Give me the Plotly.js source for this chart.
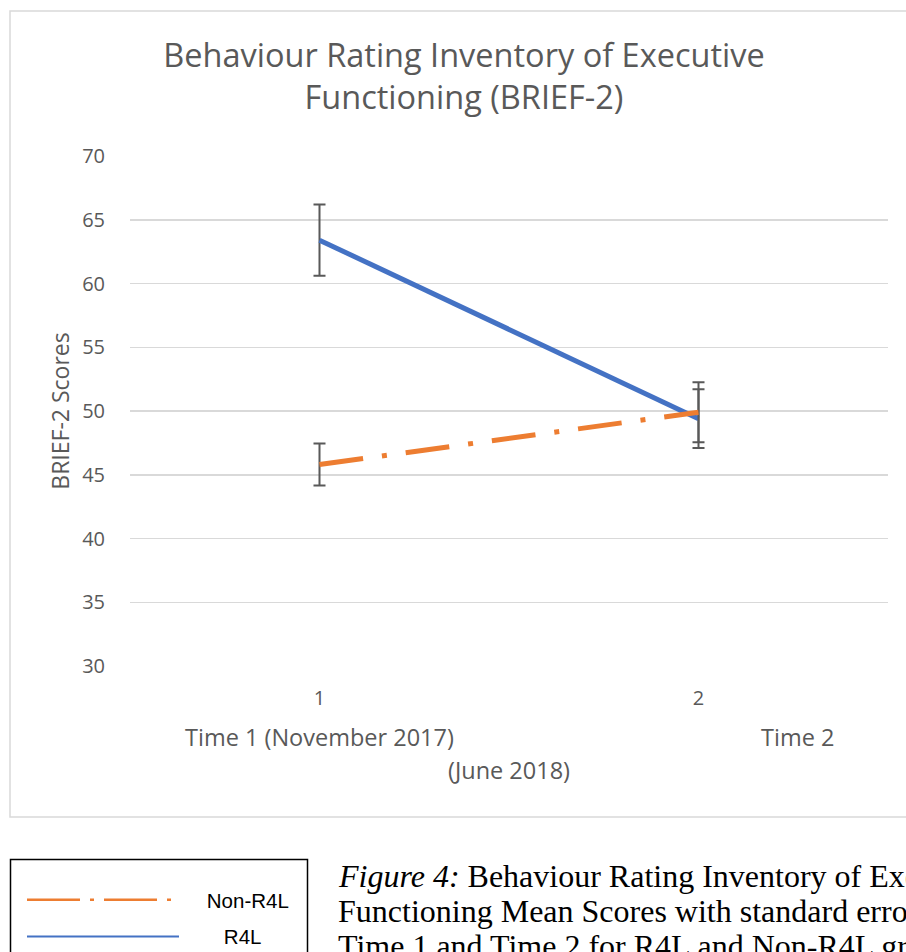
<!DOCTYPE html>
<html>
<head>
<meta charset="utf-8">
<script src="https://cdn.plot.ly/plotly-3.0.1.min.js"></script>
<style>
  html, body { margin: 0; padding: 0; background: #ffffff; overflow: hidden; }
  #chart { width: 906px; height: 952px; }
</style>
</head>
<body>
<div id="chart"></div>
<script>
// ---- data ----
const categories = ['1', '2'];
const seriesNames = ['R4L', 'Non-R4L'];
const r4lMeans = [63.4, 49.4];
const r4lErrors = [2.8, 2.3];
const nonR4lMeans = [45.8, 49.9];
const nonR4lErrors = [1.65, 2.35];
const yTicks = [30, 35, 40, 45, 50, 55, 60, 65, 70];
const chartTitle = 'Behaviour Rating Inventory of Executive<br>Functioning (BRIEF-2)';
const yTitle = 'BRIEF-2 Scores';
const timeLabels = ['Time 1 (November 2017)', 'Time 2', '(June 2018)'];
const captionLines = [
  '<i>Figure 4:</i> Behaviour Rating Inventory of Executive',
  'Functioning Mean Scores with standard error bars at',
  'Time 1 and Time 2 for R4L and Non-R4L groups.'
];

// ---- layout geometry (pixels) ----
const W = 906, H = 952;
const M = { l: 130, r: 18, t: 156, b: 286, autoexpand: false };
const pw = W - M.l - M.r, ph = H - M.t - M.b;
const px2x = px => (px - M.l) / pw;
const py2y = py => (H - M.b - py) / ph;

const BLUE = '#4472C4', ORANGE = '#ED7D31', GREY = '#595959';
const FONT = '"Open Sans", "DejaVu Sans", sans-serif';
const NB = '\u00a0';

const traces = [
  {
    x: categories, y: r4lMeans, name: seriesNames[0], type: 'scatter', mode: 'lines',
    line: { color: BLUE, width: 5 },
    error_y: { type: 'data', array: r4lErrors, visible: true, color: GREY, thickness: 2, width: 6 },
    showlegend: false, hoverinfo: 'skip'
  },
  {
    x: categories, y: nonR4lMeans, name: seriesNames[1], type: 'scatter', mode: 'lines',
    line: { color: ORANGE, width: 5, dash: '44px,19px,5px,19px' },
    error_y: { type: 'data', array: nonR4lErrors, visible: true, color: GREY, thickness: 2, width: 6 },
    showlegend: false, hoverinfo: 'skip'
  },
  // legend entries (no data of their own)
  {
    x: [null], y: [null], name: NB.repeat(4) + seriesNames[1], type: 'scatter', mode: 'lines',
    line: { color: ORANGE, width: 2.5, dash: '53px,10px,4px,10px' },
    legendgroup: 'a', showlegend: true
  },
  {
    x: [null], y: [null], name: NB.repeat(7) + seriesNames[0], type: 'scatter', mode: 'lines',
    line: { color: BLUE, width: 2 },
    legendgroup: 'b', showlegend: true
  }
];

const annFont = { family: FONT, size: 23.5, color: GREY };
const annotations = [
  { text: timeLabels[0], x: px2x(319), y: py2y(737), xref: 'paper', yref: 'paper', showarrow: false, xanchor: 'center', yanchor: 'middle', font: annFont },
  { text: timeLabels[1], x: px2x(797), y: py2y(737), xref: 'paper', yref: 'paper', showarrow: false, xanchor: 'center', yanchor: 'middle', font: annFont },
  { text: timeLabels[2], x: px2x(509), y: py2y(770), xref: 'paper', yref: 'paper', showarrow: false, xanchor: 'center', yanchor: 'middle', font: annFont }
];
const capFont = { family: '"Liberation Serif", "Times New Roman", serif', size: 32, color: '#000000' };
captionLines.forEach((t, i) => {
  annotations.push({ text: t, x: px2x(336), y: py2y(876 + 35 * i), xref: 'paper', yref: 'paper',
    showarrow: false, xanchor: 'left', yanchor: 'middle', font: capFont });
});

const layout = {
  width: W, height: H,
  margin: M,
  paper_bgcolor: '#ffffff', plot_bgcolor: '#ffffff',
  title: {
    text: chartTitle, font: { family: FONT, size: 32.5, color: GREY },
    x: 464 / W, xanchor: 'center', xref: 'container',
    y: 1 - 67 / H, yanchor: 'top', yref: 'container'
  },
  xaxis: {
    type: 'category', range: [-0.5, 1.5],
    showgrid: false, zeroline: false, showline: false, ticks: '',
    tickfont: { family: FONT, size: 20, color: GREY },
    ticklabelstandoff: 18, fixedrange: true
  },
  yaxis: {
    range: [30, 70], tickvals: yTicks,
    showgrid: true, gridcolor: '#d9d9d9', gridwidth: 1.5,
    zeroline: false, showline: false, ticks: '',
    tickfont: { family: FONT, size: 20, color: GREY },
    ticklabelstandoff: 24,
    title: { text: yTitle, font: { family: FONT, size: 23, color: GREY }, standoff: 6 },
    fixedrange: true
  },
  showlegend: true,
  legend: {
    x: px2x(22), y: py2y(880), xanchor: 'left', yanchor: 'top',
    bgcolor: 'rgba(255,255,255,0)', borderwidth: 0,
    font: { family: '"Liberation Sans", Arial, sans-serif', size: 20.5, color: '#000000' },
    itemwidth: 152, traceorder: 'grouped', tracegroupgap: 7
  },
  shapes: [
    { type: 'rect', xref: 'paper', yref: 'paper', layer: 'below',
      x0: px2x(10), x1: px2x(940), y0: py2y(817), y1: py2y(11),
      line: { color: '#d9d9d9', width: 1.5 }, fillcolor: 'rgba(0,0,0,0)' },
    { type: 'rect', xref: 'paper', yref: 'paper', layer: 'below',
      x0: px2x(10.5), x1: px2x(307.5), y0: py2y(975), y1: py2y(859.5),
      line: { color: '#000000', width: 1.5 }, fillcolor: 'rgba(0,0,0,0)' }
  ],
  annotations: annotations
};

Plotly.newPlot('chart', traces, layout, { staticPlot: true, displayModeBar: false });
</script>
</body>
</html>
